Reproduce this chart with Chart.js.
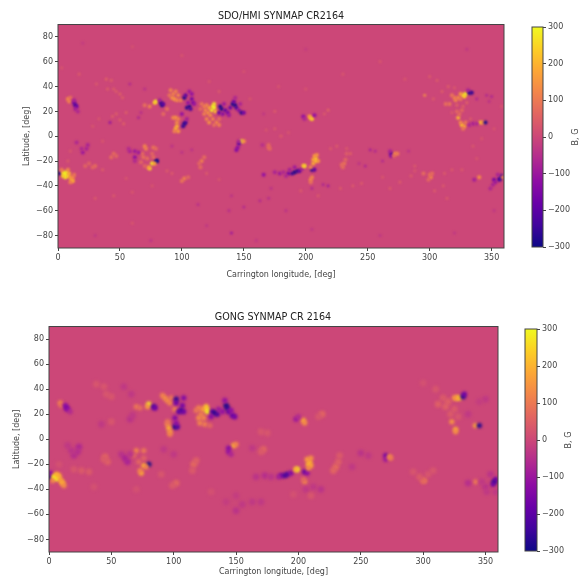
<!DOCTYPE html>
<html>
<head>
<meta charset="utf-8">
<title>SDO/HMI and GONG synoptic maps CR2164</title>
<script src="https://cdn.jsdelivr.net/npm/chart.js@4"></script>
<style>
  html, body { margin: 0; padding: 0; background: #fff; }
  canvas { position: absolute; filter: blur(0.4px); }
</style>
</head>
<body>
<canvas id="hmiMap" width="562" height="280" style="left:0;top:0"></canvas>
<canvas id="hmiBar" width="68" height="280" style="left:515px;top:0"></canvas>
<canvas id="gongMap" width="546" height="277" style="left:0;top:300px"></canvas>
<canvas id="gongBar" width="68" height="277" style="left:508px;top:300px"></canvas>
<script>
const lonTicks = [0, 50, 100, 150, 200, 250, 300, 350];
const latTicks = [-80, -60, -40, -20, 0, 20, 40, 60, 80];
const barTicks = [-300, -200, -100, 0, 100, 200, 300];
const barRange = [-300, 300];

// cells: [longitude, latitude, B]
const hmiFaint = [
  [3,55,40],[17,50,50],[39,46,70],[43,45,60],[50,34,70],[47,36,60],[45,38,60],[40,38,60],[52,31,60],[31,42,50],
  [47,18,60],[50,13,60],[53,10,70],[44,16,60],[55,19,60],[42,11,-130],[58,42,-70],[70,38,-60],[65,15,-80],[67,19,-60],
  [33,14,40],[28,8,40],[36,-4,40],[10,-12,40],[8,-20,50],[36,-27,60],[55,-34,40],[60,-45,40],[30,-50,50],[45,-48,50],
  [113,-55,-60],[150,-57,-70],[163,-52,-70],[170,-50,-60],[140,-48,-50],[138,-60,-60],[92,-8,-50],[100,-13,-50],[108,-11,-50],
  [120,-30,50],[88,-28,50],[92,-30,50],[76,-40,40],[130,-35,40],[172,-42,-50],[184,-60,-50],[205,-42,-70],[214,-39,-80],[218,-40,-100],
  [196,-44,50],[210,-48,50],[228,-42,50],[238,-40,50],[245,-38,50],[262,-33,40],[262,-20,-70],[256,-12,-70],[252,-11,-90],[248,-24,-80],
  [243,-22,-50],[220,-10,50],[225,-8,50],[236,-14,70],[233,-10,50],[218,21,70],[215,18,50],[180,0,50],[175,6,50],[168,5,40],
  [186,3,40],[166,18,-40],[175,20,50],[122,44,40],[130,36,50],[155,30,40],[283,-12,-50],[288,-24,50],[285,-32,50],[276,-37,50],
  [268,-42,50],[312,-30,50],[318,-27,50],[326,-27,50],[338,-18,40],[335,-8,40],[311,-40,50],[304,-44,50],[314,-50,50],[288,-28,40],
  [280,46,40],[300,48,50],[306,45,50],[315,40,60],[320,39,50],[310,36,60],[296,33,150],[303,30,50],[330,27,70],[322,25,70],
  [327,24,70],[318,19,50],[333,14,50],[338,30,-70],[350,32,-80],[346,33,-70],[348,28,-50],[358,24,40],[352,6,40],[342,-2,40],
  [30,-80,-40],[75,-84,-50],[140,-78,-110],[120,-72,-40],[160,-84,-40],[205,-75,-40],[260,-80,-40],[320,-78,-40],[352,-60,-40],[60,-70,40],
  [100,65,40],[150,52,30],[200,70,-30],[260,60,40],[330,70,-40],[60,72,30],[20,75,-30],[230,50,40],[178,40,40],[200,38,40]
];
const hmiStrong = [
  [1,-30,-280],[4,-29,200],[5,-30,300],[6,-31,300],[7,-29,300],[6,-33,280],[4,-32,250],[8,-32,260],[9,-30,190],[10,-33,170],
  [11,-35,210],[12,-36,190],[12,-33,130],[3,-27,110],[8,-27,130],[10,-37,120],[13,-31,100],
  [8,30,140],[9,28,120],[10,31,90],[13,27,-180],[14,25,-240],[15,24,-170],[14,22,-90],[16,20,-70],[13,29,-80],
  [79,28,290],[78,27,240],[74,24,120],[70,25,90],[83,27,-280],[84,25,-280],[85,26,-200],[82,29,-90],
  [91,37,120],[93,34,130],[95,36,120],[92,31,150],[94,30,170],[97,33,130],[99,29,120],[96,29,130],[90,33,100],[88,22,90],[85,18,80],
  [102,31,-290],[103,33,-200],[106,36,-100],[108,34,-120],[108,30,-170],[109,27,-160],[106,24,-290],[104,23,-270],[107,22,-230],[105,27,-120],[110,26,-100],
  [100,18,-120],[102,10,-290],[101,8,-260],[103,11,-240],[104,14,-90],
  [95,15,160],[93,15,130],[97,14,120],[96,11,140],[96,8,200],[95,6,210],[97,4,170],[94,4,120],
  [125,24,300],[126,23,300],[126,26,280],[124,21,290],[127,20,220],[122,23,190],[120,25,130],[118,24,120],[116,26,100],[121,19,150],
  [118,18,120],[123,17,140],[120,14,130],[125,14,120],[122,11,150],[128,11,130],[130,9,120],[126,9,90],[119,21,130],[115,22,80],[130,14,80],
  [131,24,-290],[132,22,-290],[130,19,-190],[133,18,-140],[135,21,-200],[137,19,-170],[139,23,-180],[141,26,-290],[143,25,-290],[142,28,-180],
  [144,23,-230],[146,21,-130],[148,19,-270],[150,19,-170],[147,26,-80],[143,31,-70],[138,17,-100],[134,26,-100],
  [148,-4,290],[150,-4,150],[146,-6,-210],[145,-9,-120],[144,-11,-150],[146,-4,-80],
  [80,-20,-300],[79,-20,-290],[76,-22,290],[78,-22,180],[74,-26,250],[73,-25,170],[70,-8,130],[71,-10,120],[77,-9,100],[79,-10,80],
  [68,-14,80],[69,-17,90],[72,-18,80],[67,-21,70],[76,-14,70],[77,-17,80],[70,-24,70],
  [62,-12,-100],[62,-17,-130],[58,-12,-80],[65,-13,-100],[62,-20,-70],[57,-10,-60],
  [186,-30,-170],[189,-30,-250],[191,-29,-290],[193,-28,-270],[195,-28,-200],[187,-27,-90],[191,-25,-100],[197,-26,-100],[184,-32,-70],
  [199,-24,290],[198,-24,220],[205,-27,-270],[207,-27,-200],
  [208,-18,260],[208,-20,240],[206,-22,190],[209,-15,150],[207,-16,170],[210,-20,160],[206,-19,180],[204,-25,130],[204,-35,140],[205,-33,120],[204,-37,90],
  [204,15,260],[205,14,240],[203,16,170],[198,16,-120],[207,17,-120],[199,14,-70],
  [231,-22,100],[230,-25,80],[232,-19,70],[229,-23,80],[233,-14,50],
  [269,-14,-240],[269,-16,-130],[268,-12,-80],[272,-14,140],[274,-14,110],[271,-16,80],
  [301,-33,130],[302,-30,80],[295,-30,80],[300,-31,80],[299,-35,70],
  [327,33,280],[329,34,300],[328,32,240],[325,34,170],[323,31,140],[320,31,120],[318,33,100],[321,29,120],[325,30,100],[316,26,100],[313,26,90],
  [332,35,-290],[334,35,-260],[331,37,-80],
  [323,15,210],[324,18,80],[326,21,70],[326,9,240],[328,8,180],[325,11,130],[329,11,100],[327,6,100],[322,20,70],[335,10,-80],[332,9,-70],
  [341,11,230],[343,11,150],[345,11,-290],[338,10,-70],
  [357,-34,-290],[358,-32,-240],[356,-35,-220],[352,-35,-170],[351,-39,-80],[353,-37,-100],[340,-33,140],[336,-35,-90],[359,-33,120],[355,-31,-80],[349,-42,-70],
  [116,-20,120],[118,-17,80],[115,-25,80],[114,-22,70],[102,-34,120],[100,-36,100],[105,-33,70],
  [166,-31,-120],[175,-29,-80],[179,-30,-100],[182,-29,-70],[170,-9,80],[171,-10,70],[170,-7,70],[165,-7,-50],
  [20,-13,-100],[24,-7,-80],[23,-10,-80],[15,-5,-70],[19,-10,-70],
  [30,-24,80],[22,-24,70],[28,-25,70],[25,-22,60],[45,-14,80],[43,-17,80],[47,-16,70]
];
const gongFaint = [
  [38,44,30],[44,42,30],[50,34,30],[46,36,30],[60,42,-30],[66,36,-30],[65,16,-40],[67,19,-30],[42,12,-30],[50,14,30],
  [8,-20,20],[32,-26,40],[26,-25,40],[20,-24,30],[45,-14,60],[47,-18,50],[44,-16,40],[20,-13,-50],[24,-6,-60],[23,-10,-50],
  [15,-5,-30],[18,-9,-40],[58,-12,-40],[61,-15,-70],[63,-18,-70],[65,-12,-40],[102,-35,60],[99,-37,40],[116,-20,70],[118,-17,50],
  [115,-25,40],[92,-8,-30],[100,-12,-30],[166,-30,-40],[173,-29,-50],[178,-30,-40],[150,-45,-20],[155,-52,-30],[163,-50,-30],[170,-50,-30],
  [150,-57,-40],[142,-50,-20],[172,-8,60],[170,-10,40],[163,-7,-30],[175,5,30],[170,6,30],[219,20,60],[216,18,30],[230,-22,70],
  [232,-18,50],[228,-25,60],[233,-13,40],[250,-11,-40],[256,-13,-30],[243,-22,-30],[212,-38,-30],[218,-40,-40],[206,-40,-30],[210,-45,30],
  [196,-44,20],[300,-33,70],[297,-30,40],[304,-28,30],[308,-25,30],[292,-26,30],[312,28,50],[316,33,40],[320,30,50],[318,26,50],
  [325,24,40],[322,20,40],[328,18,30],[336,20,-30],[350,32,-30],[345,30,-20],[354,-28,-40],[350,-38,-40],[347,-34,-30],[351,-42,-30],
  [358,-42,-30],[336,-35,-50],[90,-28,30],[36,-38,20],[300,45,20],[310,40,30],[130,-42,20],[70,-40,20]
];
const gongStrong = [
  [0,-30,-280],[1,-27,-130],[4,-30,240],[5,-31,300],[6,-30,300],[7,-31,300],[6,-28,200],[8,-29,180],[9,-32,170],[10,-34,170],
  [11,-35,190],[12,-37,140],[3,-33,130],
  [9,29,120],[10,27,80],[13,27,-120],[14,25,-160],[15,24,-120],[17,22,-60],
  [70,26,100],[73,25,80],[80,28,280],[79,26,150],[84,26,-240],[85,25,-170],
  [91,35,120],[93,33,140],[95,31,140],[97,29,120],[98,33,100],[101,24,120],
  [102,32,-270],[102,29,-180],[108,33,-150],[107,27,-160],[106,23,-260],[104,22,-190],[108,22,-170],[101,17,-150],[101,10,-290],[103,10,-210],[102,13,-130],
  [95,12,130],[96,9,200],[97,6,170],[95,14,90],[97,4,120],
  [126,24,300],[127,22,280],[126,26,230],[123,24,170],[120,25,120],[118,23,100],[122,20,120],[120,17,140],[124,17,130],[121,13,130],[125,12,120],[129,11,70],
  [131,22,-200],[133,21,-290],[135,20,-220],[130,18,-140],[136,24,-100],[139,22,-120],[142,27,-290],[143,25,-270],[144,22,-190],[141,31,-120],[147,19,-190],[149,18,-170],[146,23,-120],
  [148,-5,200],[150,-4,120],[144,-7,-140],[144,-10,-120],[146,-12,-70],
  [80,-20,-300],[76,-21,200],[78,-22,120],[74,-27,190],[73,-25,120],[70,-9,120],[68,-13,70],[76,-9,100],[72,-18,70],[76,-15,60],
  [186,-29,-180],[189,-29,-230],[191,-28,-230],[194,-27,-150],[184,-30,-80],[199,-24,300],[198,-24,190],
  [205,-26,-200],[207,-27,-120],[209,-18,200],[208,-20,210],[207,-16,170],[210,-15,150],[210,-21,180],[208,-23,140],[205,-34,120],[204,-32,70],
  [204,15,180],[205,13,140],[198,16,-100],[200,18,-60],
  [270,-13,-170],[270,-16,-100],[273,-14,150],[274,-15,100],[301,-33,100],
  [327,33,210],[329,33,220],[325,33,150],[332,34,-270],[333,36,-170],
  [323,14,150],[326,8,190],[326,6,140],[342,11,180],[345,11,-280],
  [357,-34,-290],[358,-32,-180],[356,-36,-170],[342,-34,100]
];

const plasmaStops = ['#0d0887','#41049d','#6a00a8','#8f0da4','#b12a90','#cc4778','#e16462','#f2844b','#fca636','#fcce25','#f0f921'];
const inkColor = '#444';
const tickFont = { family: 'DejaVu Sans', size: 8 };

function plasma(t) {
  const pos = Math.min(Math.max(t, 0), 1) * (plasmaStops.length - 1);
  const i = Math.min(Math.floor(pos), plasmaStops.length - 2);
  const a = parseInt(plasmaStops[i].slice(1), 16);
  const b = parseInt(plasmaStops[i + 1].slice(1), 16);
  const mix = shift => Math.round((a >> shift & 255) + ((b >> shift & 255) - (a >> shift & 255)) * (pos - i));
  return `rgb(${mix(16)},${mix(8)},${mix(0)})`;
}
const fieldColor = b => plasma((b - barRange[0]) / (barRange[1] - barRange[0]));
const minus = v => String(v).replace('-', '\u2212');

// quiet sun fill under the cells, and a soft edge on the cells themselves
const mapPlugin = {
  id: 'mapPlugin',
  beforeDatasetsDraw(chart, args, opts) {
    const { ctx, chartArea: a } = chart;
    ctx.save();
    ctx.fillStyle = fieldColor(0);
    ctx.fillRect(a.left, a.top, a.width, a.height);
    ctx.restore();
    ctx.filter = `blur(${opts.blur}px)`;
  },
  afterDatasetsDraw(chart) {
    chart.ctx.filter = 'none';
  }
};
const framePlugin = {
  id: 'framePlugin',
  afterDraw(chart) {
    const { ctx, chartArea: a } = chart;
    ctx.save();
    ctx.strokeStyle = inkColor;
    ctx.lineWidth = 1;
    ctx.strokeRect(a.left, a.top, a.width, a.height);
    ctx.restore();
  }
};
const barTitlePlugin = {
  id: 'barTitlePlugin',
  afterDraw(chart) {
    const { ctx, chartArea: a, width } = chart;
    ctx.save();
    ctx.translate(width - 7, (a.top + a.bottom) / 2);
    ctx.rotate(-Math.PI / 2);
    ctx.font = '8px "DejaVu Sans"';
    ctx.fillStyle = inkColor;
    ctx.textAlign = 'center';
    ctx.textBaseline = 'middle';
    ctx.fillText('B, G', 0, 0);
    ctx.restore();
  }
};

function drawMap(id, title, faint, strong, box) {
  const toPoints = cells => cells.map(c => ({ x: c[0], y: c[1] }));
  new Chart(document.getElementById(id), {
    type: 'scatter',
    data: {
      datasets: [
        {
          data: toPoints(faint),
          pointRadius: box.faintRadius,
          pointBorderWidth: 0,
          backgroundColor: ctx => fieldColor(faint[ctx.dataIndex][2])
        },
        {
          data: toPoints(strong),
          pointRadius: box.radius,
          pointBorderWidth: 0,
          backgroundColor: ctx => fieldColor(strong[ctx.dataIndex][2])
        }
      ]
    },
    options: {
      responsive: false,
      animation: false,
      plugins: {
        legend: { display: false },
        tooltip: { enabled: false },
        title: {
          display: true,
          text: title,
          color: '#222',
          font: { family: 'DejaVu Sans', size: 9.6, weight: 'normal' },
          padding: box.titlePad
        },
        mapPlugin: { blur: box.blur }
      },
      scales: {
        x: {
          type: 'linear',
          min: 0,
          max: 360,
          afterBuildTicks: s => { s.ticks = lonTicks.map(v => ({ value: v })); },
          afterFit: s => { s.height = box.xHeight; },
          grid: { drawOnChartArea: false, tickLength: 3, tickColor: inkColor },
          border: { display: false },
          ticks: { color: inkColor, font: tickFont, padding: 2, maxRotation: 0, autoSkip: false },
          title: { display: true, text: 'Carrington longitude, [deg]', color: inkColor, font: tickFont, padding: { top: box.xTitlePad, bottom: 0 } }
        },
        y: {
          type: 'linear',
          min: -90,
          max: 90,
          afterBuildTicks: s => { s.ticks = latTicks.map(v => ({ value: v })); },
          afterFit: s => { s.width = box.yWidth; },
          grid: { drawOnChartArea: false, tickLength: 3, tickColor: inkColor },
          border: { display: false },
          ticks: { color: inkColor, font: tickFont, padding: 2, autoSkip: false, callback: minus },
          title: { display: true, text: 'Latitude, [deg]', color: inkColor, font: tickFont, padding: { top: box.yTitlePad, bottom: 0 } }
        },
        // empty right hand axis, keeps the title centred over the map
        yRight: {
          type: 'linear',
          position: 'right',
          min: -90,
          max: 90,
          afterFit: s => { s.width = box.right; },
          grid: { display: false },
          border: { display: false },
          ticks: { display: false }
        }
      }
    },
    plugins: [mapPlugin, framePlugin]
  });
}

function drawBar(id, box) {
  new Chart(document.getElementById(id), {
    type: 'bar',
    data: {
      labels: ['B, G'],
      datasets: [{
        data: [barRange],
        barPercentage: 1,
        categoryPercentage: 1,
        backgroundColor: ctx => {
          const a = ctx.chart.chartArea;
          if (!a) return fieldColor(0);
          const grad = ctx.chart.ctx.createLinearGradient(0, a.bottom, 0, a.top);
          plasmaStops.forEach((c, i) => grad.addColorStop(i / (plasmaStops.length - 1), c));
          return grad;
        }
      }]
    },
    options: {
      responsive: false,
      animation: false,
      layout: { padding: { left: box.left, top: box.top, bottom: box.bottom, right: 0 } },
      plugins: { legend: { display: false }, tooltip: { enabled: false } },
      scales: {
        x: { display: false },
        y: {
          position: 'right',
          min: barRange[0],
          max: barRange[1],
          afterBuildTicks: s => { s.ticks = barTicks.map(v => ({ value: v })); },
          afterFit: s => { s.width = box.yWidth; },
          grid: { drawOnChartArea: false, tickLength: 3, tickColor: inkColor },
          border: { display: false },
          ticks: { color: inkColor, font: tickFont, padding: 2, autoSkip: false, callback: minus }
        }
      }
    },
    plugins: [framePlugin, barTitlePlugin]
  });
}

drawMap('hmiMap', 'SDO/HMI SYNMAP CR2164', hmiFaint, hmiStrong, {
  right: 58, xHeight: 32, yWidth: 58, xTitlePad: 6, yTitlePad: 22,
  titlePad: { top: 11, bottom: 2 }, radius: 2, faintRadius: 1.4, blur: 1
});
drawBar('hmiBar', { left: 17, top: 27, bottom: 33, yWidth: 40 });
drawMap('gongMap', 'GONG SYNMAP CR 2164', gongFaint, gongStrong, {
  right: 48, xHeight: 25, yWidth: 49, xTitlePad: 0, yTitlePad: 12,
  titlePad: { top: 12, bottom: 3 }, radius: 2.6, faintRadius: 3.4, blur: 1.6
});
drawBar('gongBar', { left: 17, top: 29, bottom: 26, yWidth: 39 });
</script>
</body>
</html>
